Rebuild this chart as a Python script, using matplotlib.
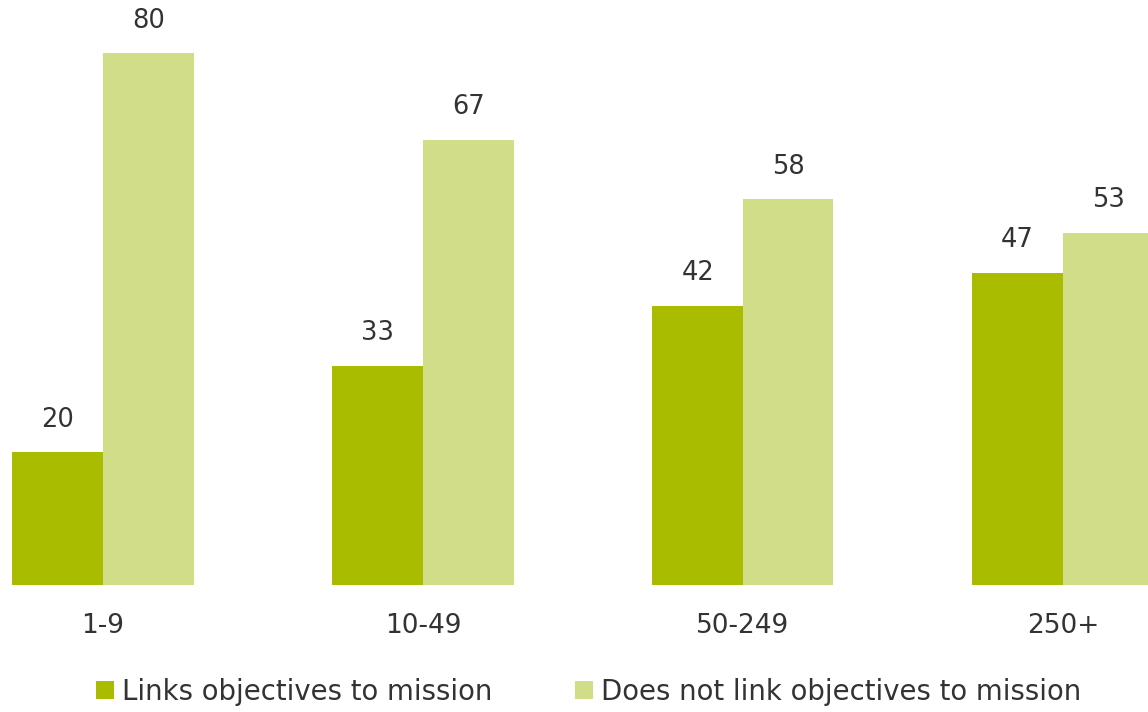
import matplotlib.pyplot as plt
import numpy as np

# data
categories = ["1-9", "10-49", "50-249", "250+"]
links = [20, 33, 42, 47]
no_links = [80, 67, 58, 53]
series_names = ["Links objectives to mission", "Does not link objectives to mission"]

dark = "#a9bc00"
light = "#d2de87"
text_col = "#333333"

plt.rcParams['font.family'] = ['DejaVu Sans']

fig = plt.figure(figsize=(11.48, 7.12), dpi=100)
ax = fig.add_axes([0, 0.1784, 1, 0.8216])

x = np.arange(len(categories))
w = 0.283

b1 = ax.bar(x - w / 2, links, w, color=dark, label=series_names[0])
b2 = ax.bar(x + w / 2, no_links, w, color=light, label=series_names[1])

for bars in (b1, b2):
    for rect in bars:
        ax.annotate("%d" % rect.get_height(),
                    (rect.get_x() + rect.get_width() / 2, rect.get_height()),
                    xytext=(0, 14), textcoords="offset points",
                    ha="center", va="bottom", fontsize=18.5, color=text_col)

ax.set_xlim(-0.322, 3.266)
ax.set_ylim(0, 88)
ax.set_xticks(x)
ax.set_xticklabels(categories, fontsize=19, color=text_col)
ax.tick_params(axis="x", length=0, pad=20)
ax.set_yticks([])
for s in ax.spines.values():
    s.set_visible(False)

fig.legend(loc="lower center", bbox_to_anchor=(0.513, -0.026), ncol=2, frameon=False,
           fontsize=19.8, handlelength=0.65, handleheight=0.65, handletextpad=0.3,
           columnspacing=3.0, labelcolor=text_col)

fig.savefig("out.png", dpi=100)
